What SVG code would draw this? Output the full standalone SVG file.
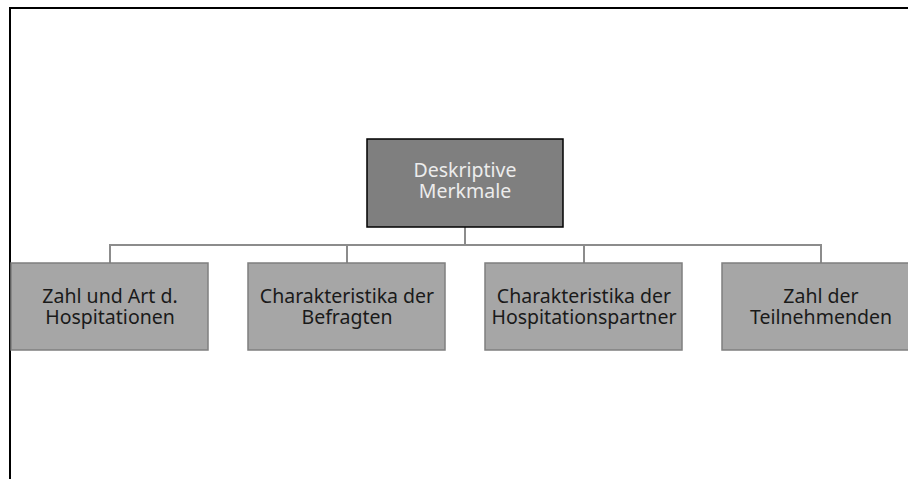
<svg xmlns="http://www.w3.org/2000/svg" width="908" height="479" viewBox="0 0 908 479">
<style>
.frame{fill:none;stroke:#000;stroke-width:2}
.root{fill:#7f7f7f;stroke:#000;stroke-width:1.5}
.child{fill:#a6a6a6;stroke:#7f7f7f;stroke-width:1.5}
.conn{fill:none;stroke:#8c8c8c;stroke-width:2}
text{font-family:"Noto Sans","Open Sans",sans-serif;font-size:19.5px;text-anchor:middle}
.rt{fill:#ececec}
.ct{fill:#1a1a1a}
</style>
<rect width="908" height="479" fill="#fff"/>
<path class="frame" d="M10 479 V8 H908"/>
<g id="connectors">
<path class="conn" d="M465 227 V245"/>
<path class="conn" d="M110 263 V245 H821 V263"/>
<path class="conn" d="M347 245 V263"/>
<path class="conn" d="M584 245 V263"/>
</g>
<g id="root">
<rect class="root" x="367" y="139" width="196" height="88"/>
<text class="rt" x="465" y="177">Deskriptive</text>
<text class="rt" x="465" y="198">Merkmale</text>
</g>
<g id="n1">
<rect class="child" x="11" y="263" width="197" height="87"/>
<text class="ct" x="110" y="303">Zahl und Art d.</text>
<text class="ct" x="110" y="324">Hospitationen</text>
</g>
<g id="n2">
<rect class="child" x="248" y="263" width="197" height="87"/>
<text class="ct" x="347" y="303">Charakteristika der</text>
<text class="ct" x="347" y="324">Befragten</text>
</g>
<g id="n3">
<rect class="child" x="485" y="263" width="197" height="87"/>
<text class="ct" x="584" y="303">Charakteristika der</text>
<text class="ct" x="584" y="324">Hospitationspartner</text>
</g>
<g id="n4">
<rect class="child" x="722" y="263" width="197" height="87"/>
<text class="ct" x="821" y="303">Zahl der</text>
<text class="ct" x="821" y="324">Teilnehmenden</text>
</g>
</svg>
